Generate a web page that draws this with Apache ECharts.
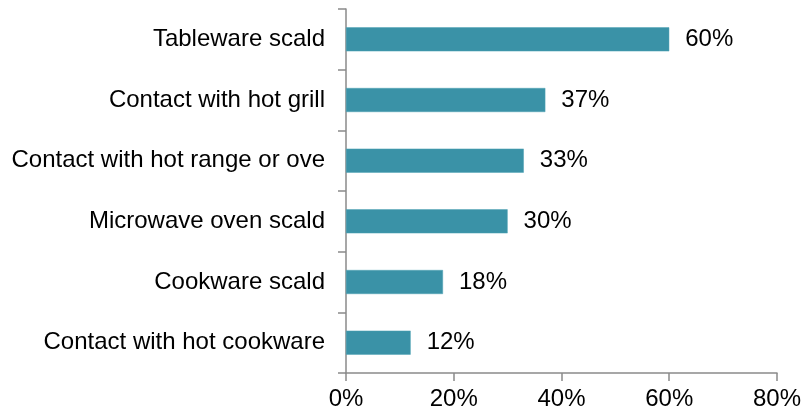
<!DOCTYPE html>
<html>
<head>
<meta charset="utf-8">
<script src="https://cdn.jsdelivr.net/npm/echarts@6/dist/echarts.min.js"></script>
<style>
  html, body { margin: 0; padding: 0; background: #fff; }
  #chart { width: 804px; height: 415px; }
</style>
</head>
<body>
<div id="chart"></div>
<script>
// Burn injury causes, share of cases (%)
const categories = [
  'Tableware scald',
  'Contact with hot grill',
  'Contact with hot range or ove',
  'Microwave oven scald',
  'Cookware scald',
  'Contact with hot cookware'
];
const shares = [60, 37, 33, 30, 18, 12];
const xTicks = [0, 20, 40, 60, 80];

const font = 'Liberation Sans, Arial, sans-serif';
const axisGrey = '#8a8a8a';

const chart = echarts.init(document.getElementById('chart'), null, { renderer: 'canvas' });
chart.setOption({
  animation: false,
  backgroundColor: '#ffffff',
  grid: { left: 346, right: 25, top: 9, bottom: 42, containLabel: false },
  xAxis: {
    type: 'value',
    min: xTicks[0],
    max: xTicks[xTicks.length - 1],
    interval: xTicks[1] - xTicks[0],
    axisLine: { show: true, lineStyle: { color: axisGrey, width: 1.5 } },
    axisTick: { show: true, length: 8, lineStyle: { color: axisGrey, width: 1.5 } },
    splitLine: { show: false },
    axisLabel: {
      formatter: v => v + '%',
      color: '#000', fontFamily: font, fontSize: 24, margin: 14
    }
  },
  yAxis: {
    type: 'category',
    data: categories,
    inverse: true,
    axisLine: { show: true, lineStyle: { color: axisGrey, width: 1.5 } },
    axisTick: { show: true, length: 8, lineStyle: { color: axisGrey, width: 1.5 } },
    axisLabel: { color: '#000', fontFamily: font, fontSize: 24, margin: 21 }
  },
  series: [{
    type: 'bar',
    data: shares,
    barWidth: 24,
    itemStyle: { color: '#3a92a7', borderColor: '#4ea2b5', borderWidth: 0.5 },
    label: {
      show: true,
      position: 'right',
      distance: 16,
      formatter: p => p.value + '%',
      color: '#000', fontFamily: font, fontSize: 24
    }
  }]
});
</script>
</body>
</html>
